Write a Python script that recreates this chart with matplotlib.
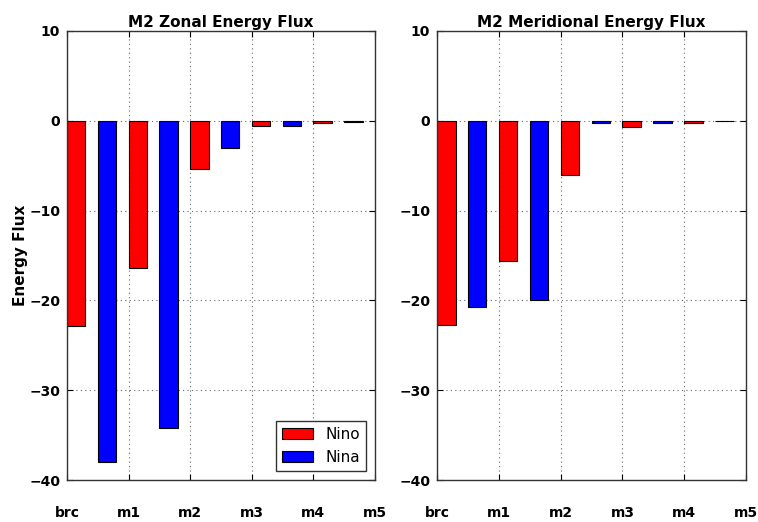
import matplotlib
matplotlib.use("Agg")
import matplotlib.pyplot as plt
import numpy as np

categories = ["brc", "m1", "m2", "m3", "m4", "m5"]
groups = ["brc", "m1", "m2", "m3", "m4"]
zonal_nino = [-22.9, -16.4, -5.4, -0.55, -0.3]
zonal_nina = [-38.0, -34.2, -3.0, -0.6, -0.1]
merid_nino = [-22.7, -15.6, -6.0, -0.7, -0.2]
merid_nina = [-20.7, -20.0, -0.3, -0.3, -0.05]
titles = ["M2 Zonal Energy Flux", "M2 Meridional Energy Flux"]

fig = plt.figure(figsize=(7.58, 5.22), dpi=100)
ax1 = fig.add_axes([67/758, 1 - 480/522, (375-67)/758, (480-31)/522])
ax2 = fig.add_axes([437/758, 1 - 480/522, (746-437)/758, (480-31)/522])

x = np.arange(len(groups))
w = 0.3
for ax, nino, nina, title in [(ax1, zonal_nino, zonal_nina, titles[0]),
                               (ax2, merid_nino, merid_nina, titles[1])]:
    ax.bar(x, nino, width=w, align="edge", color="red", edgecolor="black", linewidth=0.8, label="Nino")
    ax.bar(x + 0.5, nina, width=w, align="edge", color="blue", edgecolor="black", linewidth=0.8, label="Nina")
    ax.set_xlim(0, 5)
    ax.set_ylim(-40, 10)
    ax.set_xticks(np.arange(len(categories)))
    ax.set_xticklabels(categories, fontweight="bold", fontsize=10)
    ax.set_yticks([-40, -30, -20, -10, 0, 10])
    ax.set_yticklabels(["\u221240", "\u221230", "\u221220", "\u221210", "0", "10"], fontweight="bold", fontsize=10)
    ax.tick_params(axis="x", direction="in", pad=19, length=4, top=True)
    ax.tick_params(axis="y", direction="in", pad=5, length=4, right=True)
    ax.grid(True, linestyle=(0, (1, 3)), color="#666666", linewidth=0.8)
    ax.set_axisbelow(True)
    ax.set_title(title, fontweight="bold", fontsize=11, pad=3)
    for s in ax.spines.values():
        s.set_linewidth(1.0)
        s.set_color("#333333")

ax1.set_ylabel("Energy Flux", fontweight="bold", fontsize=11, labelpad=1)
leg = ax1.legend(loc="lower right", fontsize=11, fancybox=False, edgecolor="#333333",
                 framealpha=1, handlelength=2.0, borderaxespad=0.6)
leg.get_frame().set_linewidth(1.0)

fig.savefig("out.png", dpi=100)
